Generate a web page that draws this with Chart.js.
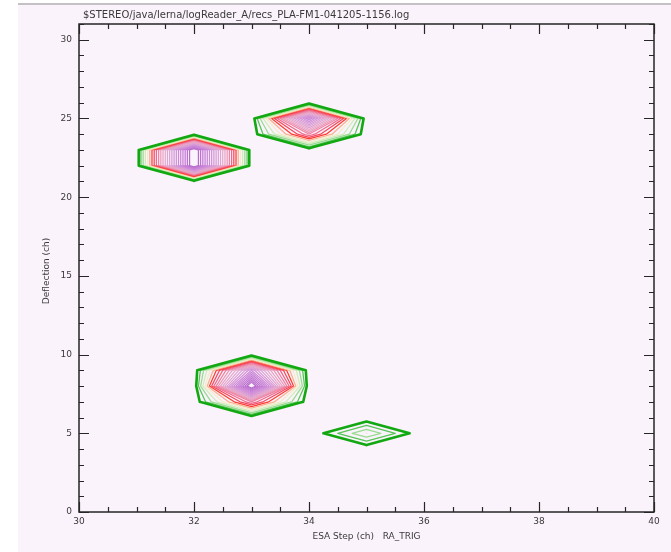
<!DOCTYPE html>
<html>
<head>
<meta charset="utf-8">
<script src="https://cdn.jsdelivr.net/npm/chart.js@4/dist/chart.umd.min.js"></script>
<style>
  html, body { margin: 0; padding: 0; background: #ffffff; }
  canvas { display: block; }
</style>
</head>
<body>
<canvas id="c" width="671" height="552"></canvas>
<script>
// ---- text ----
const fileTitle = '$STEREO/java/lerna/logReader_A/recs_PLA-FM1-041205-1156.log';
const xAxisTitle = 'ESA Step (ch)   RA_TRIG';
const yAxisTitle = 'Deflection (ch)';

// ---- axes ----
const xRange = [30, 40];
const yRange = [0, 31];
const xTickValues = [30, 32, 34, 36, 38, 40];
const xTickLabels = ['30', '32', '34', '36', '38', '40'];
const yTickValues = [0, 5, 10, 15, 20, 25, 30];
const yTickLabels = ['0', '5', '10', '15', '20', '25', '30'];
const xMinorStep = 0.5;
const yMinorStep = 1;

// ---- histogram grid (ESA step x deflection) ----
const gridX = [30, 31, 32, 33, 34, 35, 36, 37, 38, 39, 40];
const gridY = [0, 1, 2, 3, 4, 5, 6, 7, 8, 9, 10, 11, 12, 13, 14, 15,
               16, 17, 18, 19, 20, 21, 22, 23, 24, 25, 26, 27, 28, 29, 30, 31];
// non-empty bins
const binX     = [32, 32, 34, 34, 33, 33, 33, 35];
const binY     = [22, 23, 24, 25,  7,  8,  9,  5];
const binCount = [26, 26, 10, 20, 10, 26, 18,  4];

// ---- contour levels ----
const contourLevels = [1, 2, 3, 4, 5, 6, 7, 8, 9, 10, 11, 12,
                       13, 14, 15, 16, 17, 18, 19, 20, 21, 22, 23, 24];
const levelColors = [
  '#12a812', '#58c458', '#98dc90', '#d0ecb8', '#f4ecc8', '#f8b090',
  '#ff3c30', '#f44860', '#f06888', '#ee84a4', '#ec98b8', '#e8a4c4',
  '#e4a8cc', '#e0a4d0', '#dca0d4', '#d89ad6', '#d494d8', '#d08ed8',
  '#cc88d8', '#c882d6', '#c47cd4', '#c076d2', '#bc70d0', '#b86ace'
];
const levelWidths = levelColors.map((c, i) => i === 0 ? 2.6 : 1.25);

// build the value grid
const values = gridY.map(() => gridX.map(() => 0));
binX.forEach((bx, k) => {
  const i = gridX.indexOf(bx), j = gridY.indexOf(binY[k]);
  values[j][i] = binCount[k];
});

// marching squares: returns points with NaN breaks between segments
function contourPoints(level) {
  const out = [];
  const cross = (xa, ya, va, xb, yb, vb) => {
    const t = (level - va) / (vb - va);
    return { x: xa + t * (xb - xa), y: ya + t * (yb - ya) };
  };
  const push = (a, b) => { out.push(a, b, { x: NaN, y: NaN }); };
  for (let j = 0; j < gridY.length - 1; j++) {
    for (let i = 0; i < gridX.length - 1; i++) {
      const x0 = gridX[i], x1 = gridX[i + 1], y0 = gridY[j], y1 = gridY[j + 1];
      const v00 = values[j][i], v10 = values[j][i + 1];
      const v11 = values[j + 1][i + 1], v01 = values[j + 1][i];
      const above = v => v >= level;
      const e = {};
      if (above(v00) !== above(v10)) e.b = cross(x0, y0, v00, x1, y0, v10);
      if (above(v10) !== above(v11)) e.r = cross(x1, y0, v10, x1, y1, v11);
      if (above(v01) !== above(v11)) e.t = cross(x0, y1, v01, x1, y1, v11);
      if (above(v00) !== above(v01)) e.l = cross(x0, y0, v00, x0, y1, v01);
      const keys = Object.keys(e);
      if (keys.length === 2) {
        push(e[keys[0]], e[keys[1]]);
      } else if (keys.length === 4) {
        const centre = (v00 + v10 + v11 + v01) / 4;
        if (above(v00) === above(centre)) { push(e.b, e.r); push(e.t, e.l); }
        else { push(e.b, e.l); push(e.r, e.t); }
      }
    }
  }
  return out;
}

const datasets = contourLevels.map((lv, k) => ({
  label: 'level ' + lv,
  data: contourPoints(lv),
  showLine: true,
  borderColor: levelColors[k],
  borderWidth: levelWidths[k],
  borderCapStyle: 'round',
  borderJoinStyle: 'round',
  pointRadius: 0,
  pointHoverRadius: 0,
  spanGaps: false,
  tension: 0
}));

const PAGE_BG = '#fbf3fb';
const AXIS_COLOR = '#262626';
const TEXT_COLOR = '#3a3a3a';
const FONT = '"DejaVu Sans", "Liberation Sans", sans-serif';

const framePlugin = {
  id: 'frame',
  beforeDraw(chart) {
    const ctx = chart.ctx;
    ctx.save();
    ctx.fillStyle = '#ffffff';
    ctx.fillRect(0, 0, chart.width, chart.height);
    ctx.fillStyle = PAGE_BG;
    ctx.fillRect(18, 5, chart.width - 18, chart.height - 5);
    ctx.fillStyle = '#c4c0c4';
    ctx.fillRect(18, 3, chart.width - 18, 2);
    ctx.restore();
  },
  afterDraw(chart) {
    const ctx = chart.ctx;
    const xs = chart.scales.x, ys = chart.scales.y;
    const a = chart.chartArea;
    ctx.save();
    ctx.strokeStyle = AXIS_COLOR;
    ctx.lineWidth = 1.5;
    ctx.strokeRect(a.left, a.top, a.right - a.left, a.bottom - a.top);

    ctx.lineWidth = 1.2;
    const majorLen = 10, minorLen = 5;
    const near = (v, arr) => arr.some(t => Math.abs(t - v) < 1e-6);
    ctx.beginPath();
    for (let v = xRange[0]; v <= xRange[1] + 1e-9; v += xMinorStep) {
      const px = Math.round(xs.getPixelForValue(v)) + 0.5;
      const len = near(v, xTickValues) ? majorLen : minorLen;
      ctx.moveTo(px, a.bottom); ctx.lineTo(px, a.bottom - len);
      ctx.moveTo(px, a.top); ctx.lineTo(px, a.top + len);
    }
    for (let v = yRange[0]; v <= yRange[1] + 1e-9; v += yMinorStep) {
      const py = Math.round(ys.getPixelForValue(v)) + 0.5;
      const len = near(v, yTickValues) ? majorLen : minorLen;
      ctx.moveTo(a.left, py); ctx.lineTo(a.left + len, py);
      ctx.moveTo(a.right, py); ctx.lineTo(a.right - len, py);
    }
    ctx.stroke();

    ctx.fillStyle = TEXT_COLOR;
    ctx.font = '10px ' + FONT;
    ctx.textAlign = 'left';
    ctx.textBaseline = 'alphabetic';
    ctx.fillText(fileTitle, a.left + 4, a.top - 6);

    ctx.font = '9px ' + FONT;
    ctx.textAlign = 'center';
    ctx.textBaseline = 'middle';
    ctx.fillText(xAxisTitle, (a.left + a.right) / 2, 537);

    ctx.translate(47, (a.top + a.bottom) / 2 + 3);
    ctx.rotate(-Math.PI / 2);
    ctx.fillText(yAxisTitle, 0, 0);
    ctx.restore();
  }
};

new Chart(document.getElementById('c'), {
  type: 'scatter',
  data: { datasets },
  options: {
    responsive: false,
    animation: false,
    devicePixelRatio: 1,
    layout: { padding: { top: 24, right: 17, left: 0, bottom: 0 } },
    plugins: { legend: { display: false }, tooltip: { enabled: false }, title: { display: false } },
    events: [],
    scales: {
      x: {
        type: 'linear',
        min: xRange[0], max: xRange[1],
        grid: { display: false, drawTicks: false },
        border: { display: false },
        afterBuildTicks: s => { s.ticks = xTickValues.map(v => ({ value: v })); },
        afterFit: s => { s.height = 40; },
        ticks: {
          padding: 4,
          color: TEXT_COLOR,
          font: { family: FONT, size: 9 },
          maxRotation: 0,
          callback: (v) => xTickLabels[xTickValues.indexOf(v)]
        }
      },
      y: {
        type: 'linear',
        min: yRange[0], max: yRange[1],
        grid: { display: false, drawTicks: false },
        border: { display: false },
        afterBuildTicks: s => { s.ticks = yTickValues.map(v => ({ value: v })); },
        afterFit: s => { s.width = 79; },
        ticks: {
          padding: 7,
          color: TEXT_COLOR,
          font: { family: FONT, size: 9 },
          callback: (v) => yTickLabels[yTickValues.indexOf(v)]
        }
      }
    }
  },
  plugins: [framePlugin]
});
</script>
</body>
</html>
